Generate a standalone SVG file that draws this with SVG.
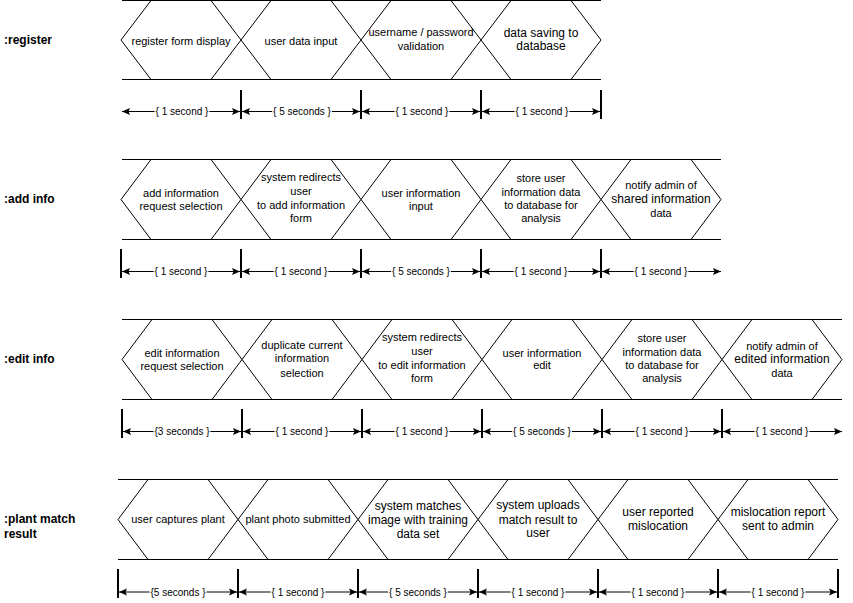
<svg xmlns="http://www.w3.org/2000/svg" width="853" height="603" viewBox="0 0 853 603">
<defs>
<style>
.hx{fill:none;stroke:#000;stroke-width:1}
.ln{fill:none;stroke:#000;stroke-width:1}
.tk{stroke:#000;stroke-width:2}
.ar{stroke:#000;stroke-width:1;fill:none;marker-start:url(#ah);marker-end:url(#ah)}
text{font-family:"Liberation Sans",Arial,sans-serif;fill:#000}
.t11{font-size:11px;text-anchor:middle}
.t12{font-size:12px;text-anchor:middle}
.dl{font-size:10px;text-anchor:middle}
.bg{fill:#fff;stroke:none}
.lbl{font-size:12px;font-weight:bold}
</style>
<marker id="ah" viewBox="0 0 8 8" refX="8" refY="4" markerWidth="8" markerHeight="8" markerUnits="userSpaceOnUse" orient="auto-start-reverse">
<path d="M0,0.5 L8,4 L0,7.5 L1.5,4 z" fill="#000"/>
</marker>
</defs>
<rect width="853" height="603" fill="#fff"/>

<g id="connectors">
<!-- timeline lines -->
<path class="ln" d="M122,0.5H601M122,79.5H601"/>
<path class="ln" d="M122,159.5H721M122,239.5H721"/>
<path class="ln" d="M122,319.5H842M122,399.5H842"/>
<path class="ln" d="M118,479.5H838M118,559.5H838"/>
<!-- register dimensions -->
<g id="dim-register">
<path class="tk" d="M241,90V119M361,90V119M481,90V119M601,90V119"/>
<path class="ar" d="M122,111.5H240"/>
<path class="ar" d="M242,111.5H360"/>
<path class="ar" d="M362,111.5H480"/>
<path class="ar" d="M482,111.5H600"/>
<rect class="bg" x="154.6" y="106.5" width="54.8" height="10"/><text class="dl" x="182" y="115">{ 1 second }</text>
<rect class="bg" x="272.1" y="106.5" width="59.8" height="10"/><text class="dl" x="302" y="115">{ 5 seconds }</text>
<rect class="bg" x="394.6" y="106.5" width="54.8" height="10"/><text class="dl" x="422" y="115">{ 1 second }</text>
<rect class="bg" x="514.6" y="106.5" width="54.8" height="10"/><text class="dl" x="542" y="115">{ 1 second }</text>
</g>
<!-- add info dimensions -->
<g id="dim-addinfo">
<path class="tk" d="M121,249V278M241,249V278M361,249V278M481,249V278M601,249V278"/>
<path class="ar" d="M122,271.5H240"/>
<path class="ar" d="M242,271.5H360"/>
<path class="ar" d="M362,271.5H480"/>
<path class="ar" d="M482,271.5H600"/>
<path class="ar" d="M602,271.5H721"/>
<rect class="bg" x="153.6" y="266.5" width="54.8" height="10"/><text class="dl" x="181" y="275">{ 1 second }</text>
<rect class="bg" x="273.6" y="266.5" width="54.8" height="10"/><text class="dl" x="301" y="275">{ 1 second }</text>
<rect class="bg" x="391.1" y="266.5" width="59.8" height="10"/><text class="dl" x="421" y="275">{ 5 seconds }</text>
<rect class="bg" x="513.6" y="266.5" width="54.8" height="10"/><text class="dl" x="541" y="275">{ 1 second }</text>
<rect class="bg" x="633.6" y="266.5" width="54.8" height="10"/><text class="dl" x="661" y="275">{ 1 second }</text>
</g>
<!-- edit info dimensions -->
<g id="dim-editinfo">
<path class="tk" d="M122,409V438M242,409V438M362,409V438M482,409V438M602,409V438M722,409V438"/>
<path class="ar" d="M123,431.5H241"/>
<path class="ar" d="M243,431.5H361"/>
<path class="ar" d="M363,431.5H481"/>
<path class="ar" d="M483,431.5H601"/>
<path class="ar" d="M603,431.5H721"/>
<path class="ar" d="M723,431.5H842"/>
<rect class="bg" x="153.5" y="426.5" width="57" height="10"/><text class="dl" x="182" y="435">{3 seconds }</text>
<rect class="bg" x="274.6" y="426.5" width="54.8" height="10"/><text class="dl" x="302" y="435">{ 1 second }</text>
<rect class="bg" x="394.6" y="426.5" width="54.8" height="10"/><text class="dl" x="422" y="435">{ 1 second }</text>
<rect class="bg" x="512.1" y="426.5" width="59.8" height="10"/><text class="dl" x="542" y="435">{ 5 seconds }</text>
<rect class="bg" x="634.6" y="426.5" width="54.8" height="10"/><text class="dl" x="662" y="435">{ 1 second }</text>
<rect class="bg" x="754.6" y="426.5" width="54.8" height="10"/><text class="dl" x="782" y="435">{ 1 second }</text>
</g>
<!-- plant match dimensions -->
<g id="dim-plant">
<path class="tk" d="M118,569V598M238,569V598M358,569V598M478,569V598M598,569V598M718,569V598M838,569V598"/>
<path class="ar" d="M119,592H237"/>
<path class="ar" d="M239,592H357"/>
<path class="ar" d="M359,592H477"/>
<path class="ar" d="M479,592H597"/>
<path class="ar" d="M599,592H717"/>
<path class="ar" d="M719,592H837"/>
<rect class="bg" x="149.5" y="587" width="57" height="10"/><text class="dl" x="178" y="595.5">{5 seconds }</text>
<rect class="bg" x="270.6" y="587" width="54.8" height="10"/><text class="dl" x="298" y="595.5">{ 1 second }</text>
<rect class="bg" x="388.1" y="587" width="59.8" height="10"/><text class="dl" x="418" y="595.5">{ 5 seconds }</text>
<rect class="bg" x="510.6" y="587" width="54.8" height="10"/><text class="dl" x="538" y="595.5">{ 1 second }</text>
<rect class="bg" x="630.6" y="587" width="54.8" height="10"/><text class="dl" x="658" y="595.5">{ 1 second }</text>
<rect class="bg" x="750.6" y="587" width="54.8" height="10"/><text class="dl" x="778" y="595.5">{ 1 second }</text>
</g>
</g>

<!-- row labels -->
<g id="lbl-register"><text class="lbl" x="4" y="43.5">:register</text></g>
<g id="lbl-addinfo"><text class="lbl" x="4" y="202.5">:add info</text></g>
<g id="lbl-editinfo"><text class="lbl" x="4" y="362.5">:edit info</text></g>
<g id="lbl-plant"><text class="lbl" x="4" y="522.5">:plant match</text><text class="lbl" x="4" y="537.5">result</text></g>

<!-- register row -->
<g id="reg1"><polygon class="hx" points="121,40 151,0.5 211,0.5 241,40 211,79.5 151,79.5"/><text class="t11" x="181" y="44.5">register form display</text></g>
<g id="reg2"><polygon class="hx" points="241,40 271,0.5 331,0.5 361,40 331,79.5 271,79.5"/><text class="t11" x="301" y="44.5">user data input</text></g>
<g id="reg3"><polygon class="hx" points="361,40 391,0.5 451,0.5 481,40 451,79.5 391,79.5"/><text class="t11" x="421" y="36.3">username / password</text><text class="t11" x="421" y="49.7">validation</text></g>
<g id="reg4"><polygon class="hx" points="481,40 511,0.5 571,0.5 601,40 571,79.5 511,79.5"/><text class="t12" x="541" y="36.6">data saving to</text><text class="t12" x="541" y="50">database</text></g>

<!-- add info row -->
<g id="add1"><polygon class="hx" points="121,199.5 151,159.5 211,159.5 241,199.5 211,239.5 151,239.5"/><text class="t11" x="181" y="197.3">add information</text><text class="t11" x="181" y="210">request selection</text></g>
<g id="add2"><polygon class="hx" points="241,199.5 271,159.5 331,159.5 361,199.5 331,239.5 271,239.5"/><text class="t11" x="301" y="181.3">system redirects</text><text class="t11" x="301" y="194.7">user</text><text class="t11" x="301" y="209">to add information</text><text class="t11" x="301" y="222.3">form</text></g>
<g id="add3"><polygon class="hx" points="361,199.5 391,159.5 451,159.5 481,199.5 451,239.5 391,239.5"/><text class="t11" x="421" y="197">user information</text><text class="t11" x="421" y="210.3">input</text></g>
<g id="add4"><polygon class="hx" points="481,199.5 511,159.5 571,159.5 601,199.5 571,239.5 511,239.5"/><text class="t11" x="541" y="182.3">store user</text><text class="t11" x="541" y="195.7">information data</text><text class="t11" x="541" y="209">to database for</text><text class="t11" x="541" y="222.3">analysis</text></g>
<g id="add5"><polygon class="hx" points="601,199.5 631,159.5 691,159.5 721,199.5 691,239.5 631,239.5"/><text class="t11" x="661" y="189">notify admin of</text><text class="t12" x="661" y="202.6">shared information</text><text class="t11" x="661" y="216.7">data</text></g>

<!-- edit info row -->
<g id="edit1"><polygon class="hx" points="122,359.5 152,319.5 212,319.5 242,359.5 212,399.5 152,399.5"/><text class="t11" x="182" y="357.3">edit information</text><text class="t11" x="182" y="370">request selection</text></g>
<g id="edit2"><polygon class="hx" points="242,359.5 272,319.5 332,319.5 362,359.5 332,399.5 272,399.5"/><text class="t11" x="302" y="349">duplicate current</text><text class="t11" x="302" y="362.3">information</text><text class="t11" x="302" y="376.7">selection</text></g>
<g id="edit3"><polygon class="hx" points="362,359.5 392,319.5 452,319.5 482,359.5 452,399.5 392,399.5"/><text class="t11" x="422" y="341.3">system redirects</text><text class="t11" x="422" y="354.7">user</text><text class="t11" x="422" y="369">to edit information</text><text class="t11" x="422" y="382.3">form</text></g>
<g id="edit4"><polygon class="hx" points="482,359.5 512,319.5 572,319.5 602,359.5 572,399.5 512,399.5"/><text class="t11" x="542" y="356.7">user information</text><text class="t11" x="542" y="369">edit</text></g>
<g id="edit5"><polygon class="hx" points="602,359.5 632,319.5 692,319.5 722,359.5 692,399.5 632,399.5"/><text class="t11" x="662" y="342.3">store user</text><text class="t11" x="662" y="355.7">information data</text><text class="t11" x="662" y="369">to database for</text><text class="t11" x="662" y="382.3">analysis</text></g>
<g id="edit6"><polygon class="hx" points="722,359.5 752,319.5 812,319.5 842,359.5 812,399.5 752,399.5"/><text class="t11" x="782" y="349.7">notify admin of</text><text class="t12" x="782" y="362.6">edited information</text><text class="t11" x="782" y="376.7">data</text></g>

<!-- plant match row -->
<g id="plant1"><polygon class="hx" points="118,519.5 148,479.5 208,479.5 238,519.5 208,559.5 148,559.5"/><text class="t11" x="178" y="523.3">user captures plant</text></g>
<g id="plant2"><polygon class="hx" points="238,519.5 268,479.5 328,479.5 358,519.5 328,559.5 268,559.5"/><text class="t11" x="298" y="523.3">plant photo submitted</text></g>
<g id="plant3"><polygon class="hx" points="358,519.5 388,479.5 448,479.5 478,519.5 448,559.5 388,559.5"/><text class="t12" x="418" y="510.3">system matches</text><text class="t12" x="418" y="523.6">image with training</text><text class="t12" x="418" y="537.6">data set</text></g>
<g id="plant4"><polygon class="hx" points="478,519.5 508,479.5 568,479.5 598,519.5 568,559.5 508,559.5"/><text class="t12" x="538" y="509.3">system uploads</text><text class="t12" x="538" y="523.6">match result to</text><text class="t12" x="538" y="537">user</text></g>
<g id="plant5"><polygon class="hx" points="598,519.5 628,479.5 688,479.5 718,519.5 688,559.5 628,559.5"/><text class="t12" x="658" y="516">user reported</text><text class="t12" x="658" y="530.3">mislocation</text></g>
<g id="plant6"><polygon class="hx" points="718,519.5 748,479.5 808,479.5 838,519.5 808,559.5 748,559.5"/><text class="t12" x="778" y="516">mislocation report</text><text class="t12" x="778" y="530.3">sent to admin</text></g>
</svg>
